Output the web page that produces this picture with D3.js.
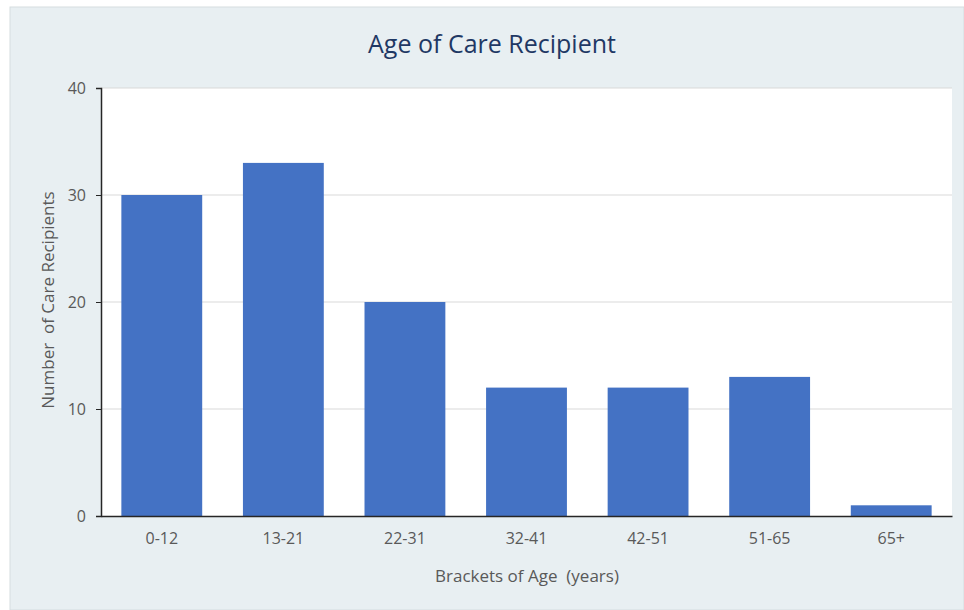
<!DOCTYPE html>
<html>
<head>
<meta charset="utf-8">
<script src="https://cdn.jsdelivr.net/npm/d3@7"></script>
<style>
  body { margin: 0; background: #fff; }
  text { font-family: "Open Sans", Lato, sans-serif; white-space: pre; }
</style>
</head>
<body>
<div id="chart"></div>
<script>
// data
const categories = ["0-12", "13-21", "22-31", "32-41", "42-51", "51-65", "65+"];
const values = [30, 33, 20, 12, 12, 13, 1];
const yTicks = [0, 10, 20, 30, 40];

const W = 964, H = 610;
const margin = {top: 88, right: 12, bottom: 94, left: 101},
    width = W - margin.left - margin.right,
    height = H - margin.top - margin.bottom;

const svg = d3.select("#chart")
  .append("svg")
    .attr("width", W)
    .attr("height", H);

// card background
svg.append("rect")
    .attr("x", 10).attr("y", 7)
    .attr("width", W - 10).attr("height", H - 7)
    .attr("fill", "#e8eff2")
    .attr("stroke", "#d5dde0");

const g = svg.append("g")
    .attr("transform", `translate(${margin.left},${margin.top})`);

// plot area
g.append("rect")
    .attr("width", width).attr("height", height)
    .attr("fill", "#fff");

const x = d3.scaleBand()
  .domain(categories)
  .range([0, width])
  .paddingInner(0.335)
  .paddingOuter(0.1675);

const y = d3.scaleLinear()
  .domain([0, 40])
  .range([height, 0]);

// gridlines
g.append("g")
  .selectAll("line")
  .data(yTicks.filter(d => d > 0))
  .join("line")
    .attr("x1", 0).attr("x2", width)
    .attr("y1", d => y(d)).attr("y2", d => y(d))
    .attr("stroke", "#d9d9d9");

// bars
g.append("g")
  .selectAll("rect")
  .data(values)
  .join("rect")
    .attr("x", (d, i) => x(categories[i]))
    .attr("y", d => y(d))
    .attr("width", x.bandwidth())
    .attr("height", d => height - y(d))
    .attr("fill", "#4472c4");

// y axis
const yAxis = g.append("g")
  .call(d3.axisLeft(y).tickValues(yTicks).tickSize(5).tickPadding(10));
yAxis.select(".domain").attr("stroke", "#262626").attr("stroke-width", 1.5);
yAxis.selectAll(".tick line").attr("stroke", "#262626");
yAxis.selectAll("text")
    .attr("fill", "#595959")
    .style("font-size", "16px");

// x axis
const xAxis = g.append("g")
  .attr("transform", `translate(0,${height})`)
  .call(d3.axisBottom(x).tickSize(0).tickPadding(17));
xAxis.select(".domain").attr("stroke", "#262626").attr("stroke-width", 1.5);
xAxis.selectAll("text")
    .attr("fill", "#595959")
    .style("font-size", "16px");

// title
svg.append("text")
    .attr("x", 492).attr("y", 53)
    .attr("text-anchor", "middle")
    .attr("fill", "#1f3864")
    .style("font-size", "25px")
    .text("Age of Care Recipient");

// axis titles
svg.append("text")
    .attr("x", 527).attr("y", 582)
    .attr("text-anchor", "middle")
    .attr("fill", "#595959")
    .style("font-size", "17px")
    .text("Brackets of Age  (years)");

svg.append("text")
    .attr("transform", "translate(54,300) rotate(-90)")
    .attr("text-anchor", "middle")
    .attr("fill", "#595959")
    .style("font-size", "17px")
    .text("Number  of Care Recipients");
</script>
</body>
</html>
